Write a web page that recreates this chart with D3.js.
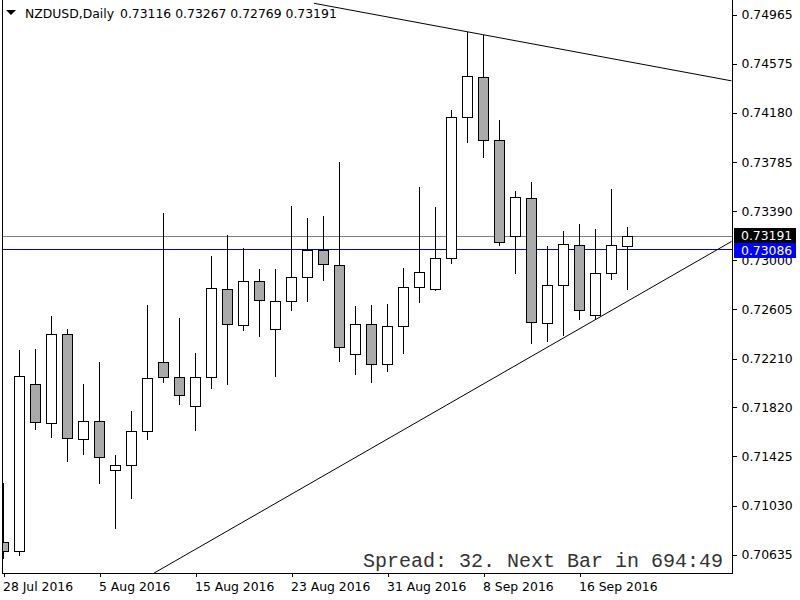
<!DOCTYPE html>
<html>
<head>
<meta charset="utf-8">
<script src="https://cdn.jsdelivr.net/npm/d3@7"></script>
<style>
  body{margin:0;background:#fff;}
  svg{display:block;}
</style>
</head>
<body>
<div id="container"></div>
<script>
let w=800;
let h=600;
let fs=12.4;

// NZDUSD daily bars, 28 Jul 2016 .. 20 Sep 2016
let opens=[0.70737,0.70667,0.72004,0.71691,0.72405,0.71563,0.71707,0.71314,0.71354,0.71627,
  0.72180,0.72060,0.71827,0.72060,0.72765,0.72477,0.72830,0.72445,0.72669,0.72862,
  0.73078,0.72958,0.72244,0.72485,0.72164,0.72469,0.72781,0.72765,0.73014,0.74145,
  0.74465,0.73960,0.73190,0.73495,0.72493,0.72797,0.73118,0.72557,0.72894,0.73116];
let highs=[0.71210,0.72279,0.72287,0.72551,0.72447,0.72006,0.72182,0.71437,0.71790,0.72640,
  0.73375,0.72533,0.72252,0.73032,0.73201,0.73094,0.72926,0.72926,0.73433,0.73335,
  0.73353,0.73784,0.72631,0.72640,0.72648,0.72936,0.73583,0.73423,0.74203,0.74831,
  0.74805,0.74123,0.73551,0.73623,0.73110,0.73233,0.73289,0.73247,0.73570,0.73267];
let lows=[0.70611,0.70635,0.71648,0.71583,0.71391,0.71447,0.71210,0.70854,0.71094,0.71567,
  0.72024,0.71843,0.71635,0.71976,0.72008,0.72441,0.72393,0.72073,0.72602,0.72674,
  0.72842,0.72193,0.72089,0.72024,0.72113,0.72257,0.72666,0.72760,0.72974,0.73949,
  0.73824,0.73123,0.72894,0.72332,0.72353,0.72396,0.72525,0.72533,0.72846,0.72769];
let closes=[0.70667,0.72068,0.71699,0.72405,0.71571,0.71707,0.71418,0.71354,0.71627,0.72052,
  0.72060,0.71915,0.72060,0.72773,0.72485,0.72830,0.72677,0.72669,0.72862,0.73078,
  0.72966,0.72300,0.72485,0.72164,0.72469,0.72781,0.72902,0.73014,0.74150,0.74473,
  0.73960,0.73142,0.73503,0.72501,0.72797,0.73126,0.72597,0.72894,0.73118,0.73191];

let xTickIdx=[0,6,12,18,24,30,36];
let xTickLabels=["28 Jul 2016","5 Aug 2016","15 Aug 2016","23 Aug 2016","31 Aug 2016","8 Sep 2016","16 Sep 2016"];
let yTicks=[0.74965,0.74575,0.74180,0.73785,0.73390,0.73000,0.72605,0.72210,0.71820,0.71425,0.71030,0.70635];

// trend lines as [bar index, price] pairs
let upperLine=[[19.4,0.75059],[45.5,0.74437]];
let lowerLine=[[9.41,0.70490],[45.5,0.73149]];

let bidPrice=0.73191;
let levelPrice=0.73086;

let bars=opens.map(function(o,i){
  return {i:i,open:o,high:highs[i],low:lows[i],close:closes[i]};
});

let x=d3.scaleLinear().domain([0,39]).range([3.5,627.5]);
let y=d3.scaleLinear().domain([0.70635,0.74965]).range([555,15]);

let svg=d3.select("#container").append("svg")
  .attr("width",w)
  .attr("height",h)
  .style("font-family","'DejaVu Sans', Verdana, sans-serif");

svg.append("defs").append("clipPath").attr("id","plot")
  .append("rect").attr("x",3).attr("y",0).attr("width",729).attr("height",573);

let plot=svg.append("g").attr("clip-path","url(#plot)");

// bid line + horizontal level
plot.append("line")
  .attr("x1",3).attr("x2",732)
  .attr("y1",Math.round(y(bidPrice))+0.5).attr("y2",Math.round(y(bidPrice))+0.5)
  .attr("stroke","#808080");
plot.append("line")
  .attr("x1",3).attr("x2",732)
  .attr("y1",Math.round(y(levelPrice))+0.5).attr("y2",Math.round(y(levelPrice))+0.5)
  .attr("stroke","#0000c8");

// trend lines
let tl=d3.line().x(function(d){return x(d[0]);}).y(function(d){return y(d[1]);});
plot.selectAll(".trend").data([upperLine,lowerLine]).enter()
  .append("path")
  .attr("class","trend")
  .attr("d",tl)
  .attr("fill","none")
  .attr("stroke","black")
  .attr("stroke-width",1);

// candles
let candle=plot.selectAll(".candle").data(bars).enter()
  .append("g").attr("class","candle");
candle.append("line")
  .attr("x1",function(d){return x(d.i);})
  .attr("x2",function(d){return x(d.i);})
  .attr("y1",function(d){return Math.round(y(d.high));})
  .attr("y2",function(d){return Math.round(y(d.low))+1;})
  .attr("stroke","black")
  .attr("shape-rendering","crispEdges");
candle.append("rect")
  .attr("x",function(d){return x(d.i)-5;})
  .attr("y",function(d){return Math.round(y(Math.max(d.open,d.close)))+0.5;})
  .attr("width",10)
  .attr("height",function(d){
    return Math.max(1,Math.round(y(Math.min(d.open,d.close)))-Math.round(y(Math.max(d.open,d.close))));
  })
  .attr("fill",function(d){return d.close>=d.open?"white":"#aaaaaa";})
  .attr("stroke","black")
  .attr("stroke-width",1);

// frame
svg.append("line").attr("x1",2.5).attr("x2",2.5).attr("y1",0).attr("y2",573.5).attr("stroke","black");
svg.append("line").attr("x1",732.5).attr("x2",732.5).attr("y1",0).attr("y2",573.5).attr("stroke","black");
svg.append("line").attr("x1",2).attr("x2",733).attr("y1",573.5).attr("y2",573.5).attr("stroke","black");

// price axis
let yAxis=svg.append("g")
  .attr("transform","translate(732.5,0)")
  .call(d3.axisRight(y).tickValues(yTicks).tickSize(4).tickPadding(5).tickFormat(d3.format(".5f")));
yAxis.select(".domain").remove();
yAxis.selectAll(".tick line").attr("shape-rendering","crispEdges");
yAxis.selectAll("text")
  .attr("font-family","'DejaVu Sans', Verdana, sans-serif")
  .attr("font-size",fs)
  .attr("fill","black");

// time axis
let xAxis=svg.append("g")
  .attr("transform","translate(0,573)")
  .call(d3.axisBottom(x).tickValues(xTickIdx).tickSize(4)
    .tickFormat(function(d){return xTickLabels[xTickIdx.indexOf(d)];}));
xAxis.select(".domain").remove();
xAxis.selectAll(".tick line").attr("shape-rendering","crispEdges");
xAxis.selectAll("text")
  .attr("font-family","'DejaVu Sans', Verdana, sans-serif")
  .attr("font-size",fs)
  .attr("fill","black")
  .attr("text-anchor","start")
  .attr("x",-1)
  .attr("y",18)
  .attr("dy",0);

// price labels on the axis
let tags=[{p:levelPrice,bg:"#0000ff",y0:243},{p:bidPrice,bg:"black",y0:228}];
let tag=svg.selectAll(".tag").data(tags).enter().append("g").attr("class","tag");
tag.append("rect")
  .attr("x",734).attr("y",function(d){return d.y0;})
  .attr("width",62).attr("height",15)
  .attr("fill",function(d){return d.bg;});
tag.append("text")
  .attr("x",741).attr("y",function(d){return d.y0+12;})
  .attr("font-size",fs)
  .attr("fill","white")
  .text(function(d){return d3.format(".5f")(d.p);});

// header
svg.append("path").attr("d","M6,10 L16,10 L11,15 Z").attr("fill","black");
svg.append("text").attr("x",25).attr("y",18).attr("font-size",fs).attr("fill","black")
  .text("NZDUSD,Daily");
let last=bars[bars.length-1];
svg.append("text").attr("x",120).attr("y",18).attr("font-size",fs).attr("fill","black")
  .text([last.open,last.high,last.low,last.close].map(d3.format(".5f")).join(" "));

// spread info
svg.append("text")
  .attr("x",723).attr("y",567)
  .attr("text-anchor","end")
  .attr("font-family","'Courier New','Liberation Mono',monospace")
  .attr("font-size",20)
  .attr("fill","#333")
  .attr("xml:space","preserve")
  .style("white-space","pre")
  .text("Spread: 32. Next Bar in 694:49");
</script>
</body>
</html>
